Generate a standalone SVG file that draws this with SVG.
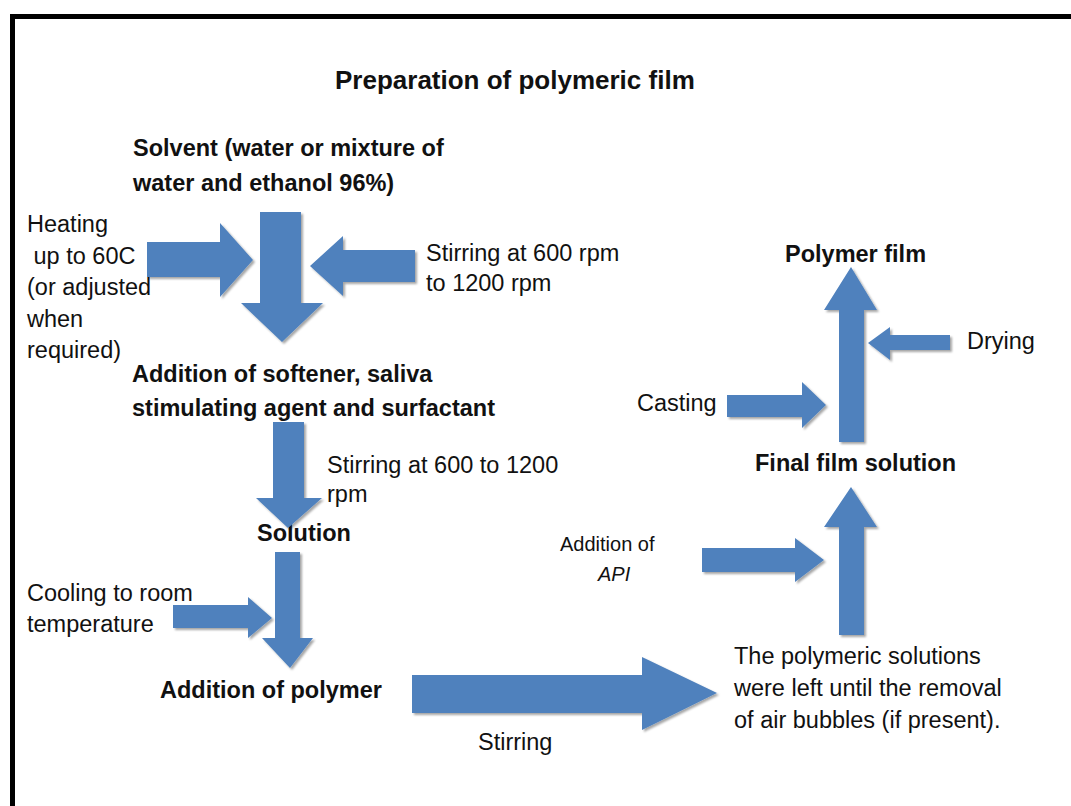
<svg xmlns="http://www.w3.org/2000/svg" width="1071" height="806" viewBox="0 0 1071 806">
<style>
text{font-family:"Liberation Sans",Arial,sans-serif;font-size:23.5px;fill:#111}
.b{font-weight:bold}
.arr{fill:#4F81BD;filter:url(#sh)}
</style>
<defs>
<filter id="sh" x="-10%" y="-10%" width="130%" height="130%">
<feDropShadow dx="2" dy="2" stdDeviation="1" flood-color="#000" flood-opacity="0.35"/>
</filter>
</defs>
<rect x="0" y="0" width="1071" height="806" fill="#fff"/>
<rect x="12.5" y="16.5" width="1100" height="820" fill="none" stroke="#000" stroke-width="5"/>

<g id="title"><text class="b" x="335" y="89" style="font-size:26px">Preparation of polymeric film</text></g>
<g id="solvent"><text class="b" x="133" y="156">Solvent (water or mixture of</text><text class="b" x="133" y="191">water and ethanol 96%)</text></g>
<g id="heating"><text x="27" y="232">Heating</text><text x="27" y="264" xml:space="preserve"> up to 60C</text><text x="27" y="295">(or adjusted</text><text x="27" y="327">when</text><text x="27" y="358">required)</text></g>
<g id="stirring1"><text x="426" y="261">Stirring at 600 rpm</text><text x="426" y="291">to 1200 rpm</text></g>
<g id="softener"><text class="b" x="132" y="382">Addition of softener, saliva</text><text class="b" x="132" y="416">stimulating agent and surfactant</text></g>
<g id="stirring2"><text x="327" y="473">Stirring at 600 to 1200</text><text x="327" y="502">rpm</text></g>
<g id="solution"><text class="b" x="257" y="541">Solution</text></g>
<g id="cooling"><text x="27" y="601">Cooling to room</text><text x="27" y="632">temperature</text></g>
<g id="polymer"><text class="b" x="160" y="698">Addition of polymer</text></g>
<g id="stirring3"><text x="478" y="750">Stirring</text></g>
<g id="bubbles"><text x="734" y="664">The polymeric solutions</text><text x="734" y="696">were left until the removal</text><text x="734" y="728">of air bubbles (if present).</text></g>
<g id="api"><text x="560" y="551" style="font-size:20px">Addition of</text><text x="598" y="581" style="font-size:20px;font-style:italic">API</text></g>
<g id="final"><text class="b" x="755" y="471">Final film solution</text></g>
<g id="casting"><text x="637" y="411">Casting</text></g>
<g id="film"><text class="b" x="785" y="262">Polymer film</text></g>
<g id="drying"><text x="967" y="349">Drying</text></g>

<g id="connectors">
<polygon class="arr" points="147,242 220,242 220,223 253,260 220,297 220,277 147,277"/>
<polygon class="arr" points="260,212 301,212 301,303 323,303 282,342 241,303 260,303"/>
<polygon class="arr" points="415,250 343,250 343,236 310,266 343,296 343,282 415,282"/>
<polygon class="arr" points="273,422 304,422 304,498 322,498 288,528 256,498 273,498"/>
<polygon class="arr" points="275,552 300,552 300,638 313,638 290,668 262,638 275,638"/>
<polygon class="arr" points="173,605 248,605 248,597 272,618 248,638 248,628 173,628"/>
<polygon class="arr" points="412,675 642,675 642,657 717,693 642,730 642,713 412,713"/>
<polygon class="arr" points="839,635 839,527 824,527 851,487 877,527 864,527 864,635"/>
<polygon class="arr" points="702,548 795,548 795,538 824,560 795,582 795,572 702,572"/>
<polygon class="arr" points="839,442 839,310 824,310 851,267 877,310 864,310 864,442"/>
<polygon class="arr" points="727,395 802,395 802,382 826,405 802,428 802,417 727,417"/>
<polygon class="arr" points="950,335 890,335 890,327 868,343 890,360 890,350 950,350"/>
</g>
</svg>
